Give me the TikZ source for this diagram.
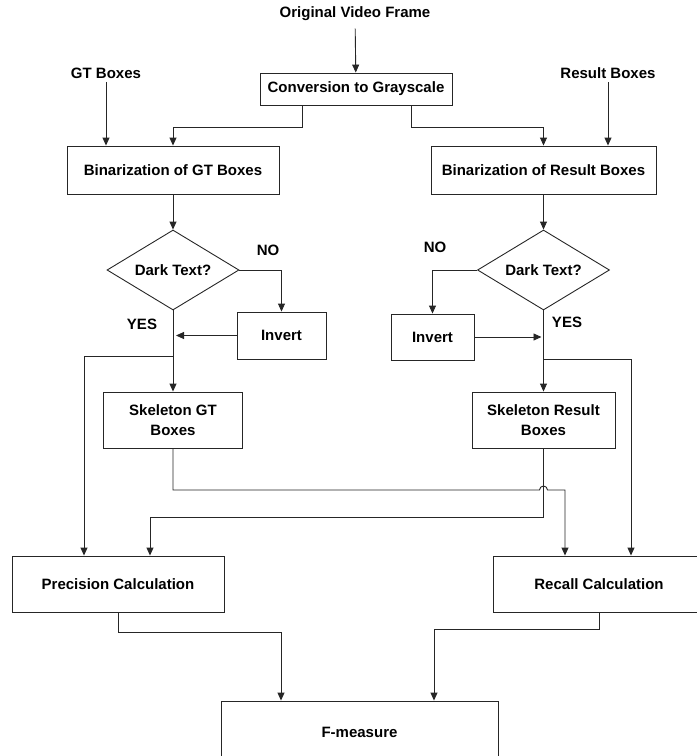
\documentclass[tikz,border=0pt]{standalone}
\usepackage{fontspec}
\setmainfont{Liberation Sans}
\usetikzlibrary{arrows.meta,positioning,shapes.geometric}

\begin{document}
\begin{tikzpicture}[x=1pt,y=-1pt,
    every node/.style={font=\bfseries\fontsize{15}{20}\selectfont},
    box/.style={draw=black!85,line width=0.9pt,inner sep=0pt,align=center,minimum width=212pt,minimum height=56pt},
    dec/.style={draw=black!85,line width=0.9pt,diamond,aspect=1.65,inner sep=1pt,minimum width=132pt,minimum height=80pt},
    arr/.style={draw=black!85,line width=0.9pt,-{Triangle[length=8pt,width=7pt]}}]
    \useasboundingbox (0,0) rectangle (697,756);
    % inputs
    \node (orig) at (355,14) {Original Video Frame};
    \node (gt) at (106,73) {GT Boxes};
    \node (res) at (608,73) {Result Boxes};
    \node[box,minimum width=192pt,minimum height=32pt] (conv) at (356,89) {Conversion to Grayscale};
    \node[box,minimum height=48pt] (binGT) at (173,170) {Binarization of GT Boxes};
    \node[box,minimum width=225pt,minimum height=48pt] (binRes) at (543.5,170) {Binarization of Result Boxes};
    % decisions
    \node[dec] (darkGT) at (173,270) {Dark Text?};
    \node[dec] (darkRes) at (543.5,270) {Dark Text?};
    \node (noGT) at (268,250) {NO};
    \node (yesGT) at (142,324) {YES};
    \node (noRes) at (435,247) {NO};
    \node (yesRes) at (567,322) {YES};
    \node[box,minimum width=89pt,minimum height=47pt] (invGT) at (281.5,335.5) {Invert};
    \node[box,minimum width=83pt,minimum height=46pt] (invRes) at (432.5,337) {Invert};
    \node[box,minimum width=139pt] (skelGT) at (173,420) {Skeleton GT\\Boxes};
    \node[box,minimum width=143pt] (skelRes) at (543.5,420) {Skeleton Result\\Boxes};
    % results
    \node[box] (prec) at (118,584) {Precision Calculation};
    \node[box] (rec) at (599,584) {Recall Calculation};
    \node[box,minimum width=277pt,minimum height=62pt] (fm) at (359.5,732) {F-measure};
    \coordinate (brGT) at (173,356);
    \coordinate (brRes) at (543.5,359);
    \coordinate (hop) at (543.5,490);

    \draw[arr,shorten <=4pt] (orig) -- (conv);
    \draw[arr] (gt) -- (gt |- binGT.north);
    \draw[arr] (res) -- (res |- binRes.north);
    \draw[arr] ([xshift=-54pt]conv.south) -- ++(0,22) -| (binGT.north);
    \draw[arr] ([xshift=55pt]conv.south) -- ++(0,22) -| (binRes.north);
    \draw[arr] (binGT) -- (darkGT);
    \draw[arr] (binRes) -- (darkRes);
    \draw[arr] (darkGT.east) -| (invGT.north);
    \draw[arr] (darkRes.west) -| (invRes.north);
    \draw[arr,shorten >=3pt] (invGT.west) -- (invGT.west -| darkGT.south);
    \draw[arr,shorten >=2pt] (invRes.east) -- (invRes.east -| darkRes.south);
    \draw[arr] (darkGT.south) -- (skelGT.north);
    \draw[arr] (darkRes.south) -- (skelRes.north);
    \draw[arr] (brGT) -| ([xshift=-34pt]prec.north);
    \draw[arr] (brRes) -| ([xshift=32pt]rec.north);
    \draw[arr] (skelGT.south) |- ([xshift=-4pt]hop) arc[start angle=180,end angle=0,radius=4pt] -| ([xshift=-34pt]rec.north);
    \draw[arr] (skelRes.south) -- ++(0,69) -| ([xshift=32pt]prec.north);
    \draw[arr] (prec.south) -- ++(0,20) -| ([xshift=-78.5pt]fm.north);
    \draw[arr] (rec.south) -- ++(0,17) -| ([xshift=74.5pt]fm.north);
\end{tikzpicture}
\end{document}
